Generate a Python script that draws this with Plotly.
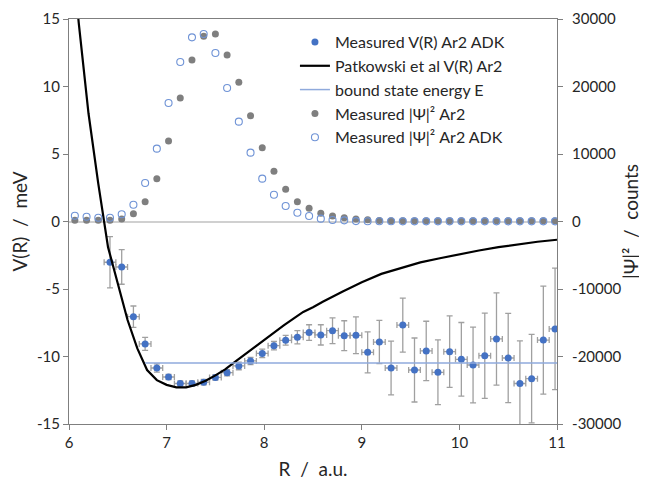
import plotly.graph_objects as go

# ---- data ----
R_grid = [6.06, 6.18, 6.30, 6.42, 6.54, 6.66, 6.78, 6.90, 7.02, 7.14, 7.26, 7.38, 7.50, 7.62,
          7.74, 7.86, 7.98, 8.10, 8.22, 8.34, 8.46, 8.58, 8.70, 8.82, 8.94, 9.06, 9.18, 9.30,
          9.42, 9.54, 9.66, 9.78, 9.90, 10.02, 10.14, 10.26, 10.38, 10.50, 10.62, 10.74, 10.86, 10.98]

R_meas = R_grid[3:]
V_meas = [-3.02, -3.37, -7.05, -9.07, -10.85, -11.52, -12.0, -12.0, -11.9, -11.55, -11.2, -10.7,
          -10.33, -9.77, -9.2, -8.8, -8.57, -8.23, -8.4, -8.09, -8.46, -8.43, -9.69, -8.93,
          -10.85, -7.67, -11.0, -9.59, -11.17, -9.64, -10.21, -10.63, -9.94, -8.70, -10.11,
          -12.0, -11.64, -8.78, -7.96]
V_err = [1.9, 1.28, 0.79, 0.48, 0.3, 0.2, 0.2, 0.2, 0.2, 0.2, 0.23, 0.28, 0.27, 0.31, 0.31,
         0.36, 0.49, 0.58, 0.75, 0.95, 1.11, 1.36, 1.52, 1.6, 1.99, 2.0, 2.37, 2.2, 2.4, 2.65,
         2.73, 2.8, 3.16, 3.42, 3.31, 3.16, 3.28, 4.0, 4.5]
R_err = 0.06

R_theory = [6.0, 6.1, 6.2, 6.3, 6.4, 6.5, 6.6, 6.7, 6.8, 6.9, 7.0, 7.1, 7.2, 7.3, 7.4, 7.5, 7.6,
            7.7, 7.8, 7.9, 8.0, 8.1, 8.2, 8.3, 8.4, 8.5, 8.6, 8.8, 9.0, 9.2, 9.4, 9.6, 9.8,
            10.0, 10.2, 10.4, 10.6, 10.8, 11.0]
V_theory = [22.5, 14.7, 8.0, 2.8, -1.9, -4.7, -7.3, -9.4, -11.0, -11.75, -12.1, -12.28, -12.28,
            -12.1, -11.8, -11.4, -10.95, -10.4, -9.85, -9.32, -8.75, -8.2, -7.7, -7.2, -6.7,
            -6.35, -5.94, -5.2, -4.5, -3.88, -3.45, -3.03, -2.72, -2.42, -2.15, -1.9, -1.68,
            -1.5, -1.35]

R_bound = [6.78, 11.0]
E_bound = [-10.48, -10.48]

psi_ar2 = [200, 200, 200, 200, 370, 1160, 2940, 6350, 11930, 18300, 23930, 27430, 27780, 24670,
           20620, 15680, 10930, 7430, 4770, 2940, 1950, 1210, 810, 570, 370, 250, 150, 120,
           100, 100, 100, 100, 100, 100, 100, 100, 100, 100, 100, 100, 100, 100]
psi_adk = [860, 710, 560, 560, 1070, 2490, 5700, 10790, 17560, 23630, 27280, 27780, 24960,
           19780, 14790, 10200, 6350, 3970, 2300, 1300, 810, 420, 220, 170, 60, 40, 30, 30,
           20, 20, 20, 20, 20, 20, 20, 20, 20, 20, 20, 20, 20, 20]

x_ticks = [6, 7, 8, 9, 10, 11]
y_ticks = [-15, -10, -5, 0, 5, 10, 15]
y2_ticks = [-30000, -20000, -10000, 0, 10000, 20000, 30000]

FONT = "Lato, 'Open Sans', sans-serif"
TXT = "#262626"

fig = go.Figure()

fig.add_trace(go.Scatter(
    x=R_meas, y=V_meas, mode="markers", name="Measured V(R) Ar2 ADK",
    marker=dict(color="#4472C4", size=7),
    error_y=dict(type="data", array=V_err, color="#a0a0a0", thickness=1.3, width=3),
    error_x=dict(type="constant", value=R_err, color="#a0a0a0", thickness=1.3, width=3),
))
fig.add_trace(go.Scatter(
    x=R_theory, y=V_theory, mode="lines", name="Patkowski et al V(R) Ar2",
    line=dict(color="black", width=2.2),
))
fig.add_trace(go.Scatter(
    x=R_bound, y=E_bound, mode="lines", name="bound state energy E",
    line=dict(color="#8faadc", width=1.5),
))
fig.add_trace(go.Scatter(
    x=R_grid, y=psi_ar2, mode="markers", name="Measured |Ψ|² Ar2", yaxis="y2",
    marker=dict(color="#7f7f7f", size=7),
))
fig.add_trace(go.Scatter(
    x=R_grid, y=psi_adk, mode="markers", name="Measured |Ψ|² Ar2 ADK", yaxis="y2",
    marker=dict(color="rgba(0,0,0,0)", size=7, line=dict(color="#6f93d6", width=1.1)),
))

axis_common = dict(showgrid=False, ticks="outside", ticklen=5, tickcolor="#7f7f7f",
                   linecolor="#7f7f7f", linewidth=1.2, showline=True, automargin=False,
                   tickfont=dict(family=FONT, size=15, color=TXT))

# page body has an 8px margin, so the figure is sized/offset to keep the plot area in place
fig.update_layout(
    width=639, height=475,
    margin=dict(l=61, r=90, t=11, b=59),
    paper_bgcolor="white", plot_bgcolor="white",
    font=dict(family=FONT, color=TXT),
    xaxis=dict(range=[6, 11], tickvals=x_ticks, ticktext=[str(v) for v in x_ticks],
               mirror=True, zeroline=False,
               title=dict(text="R  /  a.u.", font=dict(family=FONT, size=19, color=TXT), standoff=12),
               **axis_common),
    yaxis=dict(range=[-15, 15], tickvals=y_ticks, ticktext=[str(v) for v in y_ticks],
               zeroline=True, zerolinecolor="#d0d0d0", zerolinewidth=1.8,
               title=dict(text="V(R)  /  meV", font=dict(family=FONT, size=19, color=TXT), standoff=8),
               **axis_common),
    yaxis2=dict(range=[-30000, 30000], tickvals=y2_ticks, ticktext=[str(v) for v in y2_ticks],
                overlaying="y", side="right", zeroline=False, ticklabelstandoff=6,
                title=dict(text="|Ψ|²  /  counts", font=dict(family=FONT, size=19, color=TXT), standoff=4),
                **axis_common),
    legend=dict(x=0.463, y=0.985, xanchor="left", yanchor="top", bgcolor="rgba(255,255,255,0)",
                font=dict(family=FONT, size=16, color=TXT), tracegroupgap=0, itemwidth=30),
    showlegend=True,
)

fig.write_html("out.html")
